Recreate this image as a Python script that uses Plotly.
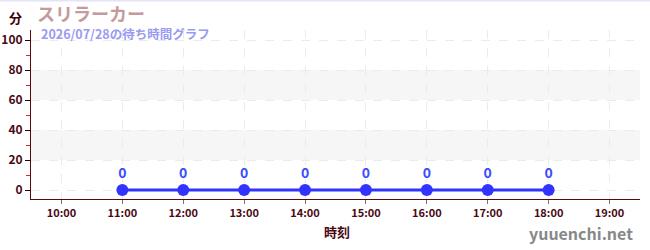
import plotly.graph_objects as go

hours = [11, 12, 13, 14, 15, 16, 17, 18]
wait_minutes = [0, 0, 0, 0, 0, 0, 0, 0]
tick_hours = [10, 11, 12, 13, 14, 15, 16, 17, 18, 19]
tick_labels = ["10:00", "11:00", "12:00", "13:00", "14:00", "15:00", "16:00", "17:00", "18:00", "19:00"]
y_ticks = [0, 20, 40, 60, 80, 100]
title_text = "スリラーカー"
subtitle_text = "2026/07/28の待ち時間グラフ"

W, H = 650, 250
ML, MR, MT, MB = 31, 10, 30, 51
PW, PH = W - ML - MR, H - MT - MB

def px(x):
    return (x - ML) / PW

def py(y):
    return (H - MB - y) / PH

FONT = "Noto Sans CJK JP"
AXC = "#5a0a0a"
LBL = "#4a0a14"

fig = go.Figure()
fig.add_trace(go.Scatter(
    x=hours, y=wait_minutes,
    mode="lines+markers+text",
    text=[str(v) for v in wait_minutes],
    textposition="top center",
    textfont=dict(family=FONT, size=14, color="#3a4cff", weight="bold"),
    line=dict(color="#3333ff", width=3),
    marker=dict(color="#3333ff", size=12),
    cliponaxis=False,
    hoverinfo="skip",
))

shapes = []
for y0, y1 in [(20, 40), (60, 80)]:
    shapes.append(dict(type="rect", xref="paper", yref="y", x0=0, x1=1, y0=y0, y1=y1,
                       fillcolor="#f6f6f6", line=dict(width=0), layer="below"))
shapes.append(dict(type="line", xref="paper", yref="paper", x0=px(0), x1=px(W), y0=py(0.5), y1=py(0.5),
                   line=dict(color="#e4e4fa", width=2)))

annotations = [
    dict(text=title_text, x=px(35), y=py(12.5), xref="paper", yref="paper", xanchor="left", yanchor="middle",
         showarrow=False, font=dict(family=FONT, size=18, color="#c49a9c", weight="bold")),
    dict(text=subtitle_text, x=px(39), y=py(33.5), xref="paper", yref="paper", xanchor="left", yanchor="middle",
         showarrow=False, font=dict(family=FONT, size=12.5, color="#9a9af2", weight="bold")),
    dict(text="分", x=px(7), y=py(17), xref="paper", yref="paper", xanchor="left", yanchor="middle",
         showarrow=False, font=dict(family=FONT, size=13, color="#3a0008", weight="bold")),
    dict(text="時刻", x=px(337), y=py(231), xref="paper", yref="paper", xanchor="center", yanchor="middle",
         showarrow=False, font=dict(family=FONT, size=13, color=LBL, weight="bold")),
    dict(text="yuuenchi.net", x=px(635), y=py(233), xref="paper", yref="paper", xanchor="right", yanchor="middle",
         showarrow=False, font=dict(family=FONT, size=16, color="#888888", weight="bold")),
]

fig.update_layout(
    width=W, height=H,
    margin=dict(l=ML, r=MR, t=MT, b=MB, pad=0, autoexpand=False),
    paper_bgcolor="white", plot_bgcolor="white",
    showlegend=False,
    shapes=shapes,
    annotations=annotations,
    xaxis=dict(
        range=[9.5, 19.5], tickvals=tick_hours, ticktext=tick_labels,
        showgrid=True, gridcolor="#ebebeb", griddash="dash", gridwidth=1,
        showline=True, linecolor=AXC, linewidth=1,
        ticks="outside", ticklen=4, tickcolor="#777777",
        tickfont=dict(family=FONT, size=11, color=LBL, weight="bold"),
        zeroline=False, fixedrange=True, automargin=False,
    ),
    yaxis=dict(
        range=[-6, 106.7], tickvals=y_ticks,
        showgrid=True, gridcolor="#ebebeb", griddash="dash", gridwidth=1,
        showline=True, linecolor=AXC, linewidth=1,
        ticks="outside", ticklen=5, tickcolor="#2a0000",
        minor=dict(ticks="outside", dtick=10, tick0=10, ticklen=4, tickcolor="#dd2222", showgrid=False),
        tickfont=dict(family=FONT, size=12, color=LBL, weight="bold"),
        zeroline=False, fixedrange=True, automargin=False,
    ),
)

fig.write_html("out.html")
